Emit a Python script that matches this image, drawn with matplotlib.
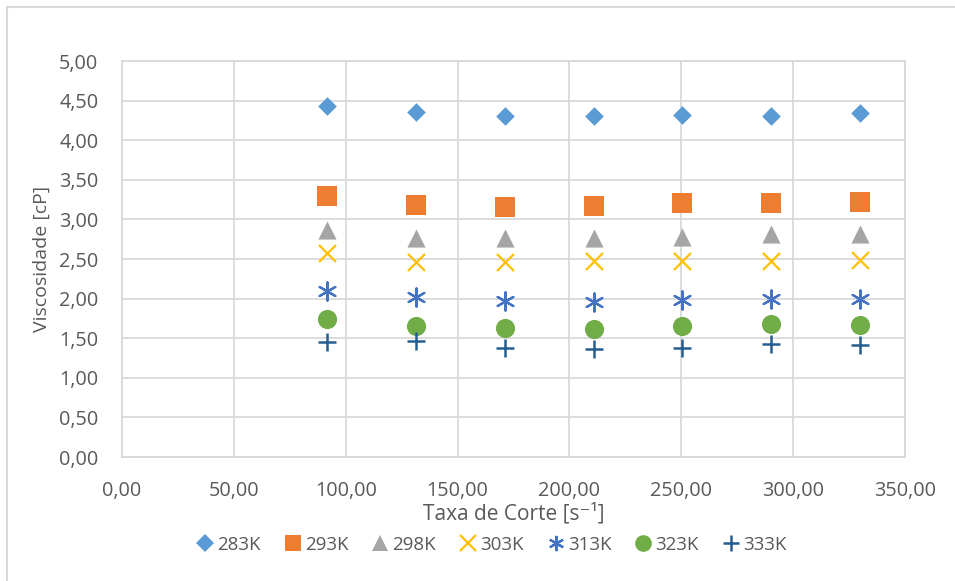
import matplotlib
matplotlib.use("Agg")
import matplotlib.pyplot as plt
from matplotlib.ticker import MultipleLocator, FuncFormatter
from matplotlib.lines import Line2D

plt.rcParams['font.family'] = ['Open Sans', 'DejaVu Sans']

shear_rate = [91.6, 131.4, 171.1, 210.8, 250.4, 290.1, 329.7]
series_names = ["283K", "293K", "298K", "303K", "313K", "323K", "333K"]
v283 = [4.43, 4.35, 4.31, 4.30, 4.32, 4.31, 4.34]
v293 = [3.30, 3.18, 3.16, 3.17, 3.21, 3.21, 3.22]
v298 = [2.87, 2.77, 2.77, 2.76, 2.78, 2.81, 2.82]
v303 = [2.57, 2.46, 2.46, 2.47, 2.48, 2.48, 2.49]
v313 = [2.09, 2.02, 1.97, 1.96, 1.98, 2.00, 1.99]
v323 = [1.74, 1.65, 1.63, 1.62, 1.65, 1.68, 1.67]
v333 = [1.45, 1.46, 1.38, 1.36, 1.38, 1.43, 1.42]
values = [v283, v293, v298, v303, v313, v323, v333]

styles = [
    dict(marker='D', color='#5B9BD5', s=90, lw=0),
    dict(marker='s', color='#ED7D31', s=190, lw=0),
    dict(marker='^', color='#A5A5A5', s=170, lw=0),
    dict(marker='x', color='#FFC000', s=150, lw=1.6),
    dict(marker=(6, 2, 0), color='#4472C4', s=170, lw=1.6),
    dict(marker='o', color='#70AD47', s=190, lw=0),
    dict(marker='+', color='#255E91', s=170, lw=1.8),
]

fig = plt.figure(figsize=(9.55, 5.81), dpi=100)
ax = fig.add_axes([122/955, 1-457/581, (905-122)/955, (457-61)/581])

for name, vals, st in zip(series_names, values, styles):
    ax.scatter(shear_rate, vals, marker=st['marker'], color=st['color'],
               s=st['s'], linewidths=st['lw'], label=name, zorder=3)

ax.set_xlim(0, 350)
ax.set_ylim(0, 5)
ax.xaxis.set_major_locator(MultipleLocator(50))
ax.yaxis.set_major_locator(MultipleLocator(0.5))
fmt = FuncFormatter(lambda v, p: f"{v:.2f}".replace('.', ','))
ax.xaxis.set_major_formatter(fmt)
ax.yaxis.set_major_formatter(fmt)
ax.grid(True, color='#D9D9D9', lw=1.3, zorder=0)
ax.set_axisbelow(True)
for sp in ax.spines.values():
    sp.set_color('#D9D9D9')
    sp.set_linewidth(1.3)
ax.tick_params(length=0, labelsize=14.3, colors='#595959')
ax.tick_params(axis='x', pad=17)
ax.tick_params(axis='y', pad=17)

ax.set_xlabel("Taxa de Corte [s\u207b\u00b9]", fontsize=15, color='#595959', labelpad=2)
ax.set_ylabel("Viscosidade [cP]", fontsize=14, color='#595959', labelpad=6)

handles = []
for name, st in zip(series_names, styles):
    ms = {'D': 9, 's': 11, '^': 11, 'x': 11, 'o': 12, '+': 12}.get(st['marker'], 11)
    handles.append(Line2D([], [], ls='none', marker=st['marker'], color=st['color'],
                          markersize=ms, markeredgewidth=st['lw'] if st['lw'] else 0,
                          label=name))
leg = fig.legend(handles=handles, loc='center', bbox_to_anchor=(490/955, 1-545/581),
                 ncol=7, frameon=False, fontsize=13.5, handletextpad=0.05,
                 columnspacing=1.1, handlelength=1.2)
for t in leg.get_texts():
    t.set_color('#595959')

# outer chart border
fig.add_artist(Line2D([6.5/955, 6.5/955], [0, 1-6.5/581], transform=fig.transFigure,
                      color='#D9D9D9', lw=1.5))
fig.add_artist(Line2D([6.5/955, 1], [1-6.5/581, 1-6.5/581], transform=fig.transFigure,
                      color='#D9D9D9', lw=1.5))

fig.savefig("out.png", dpi=100)
